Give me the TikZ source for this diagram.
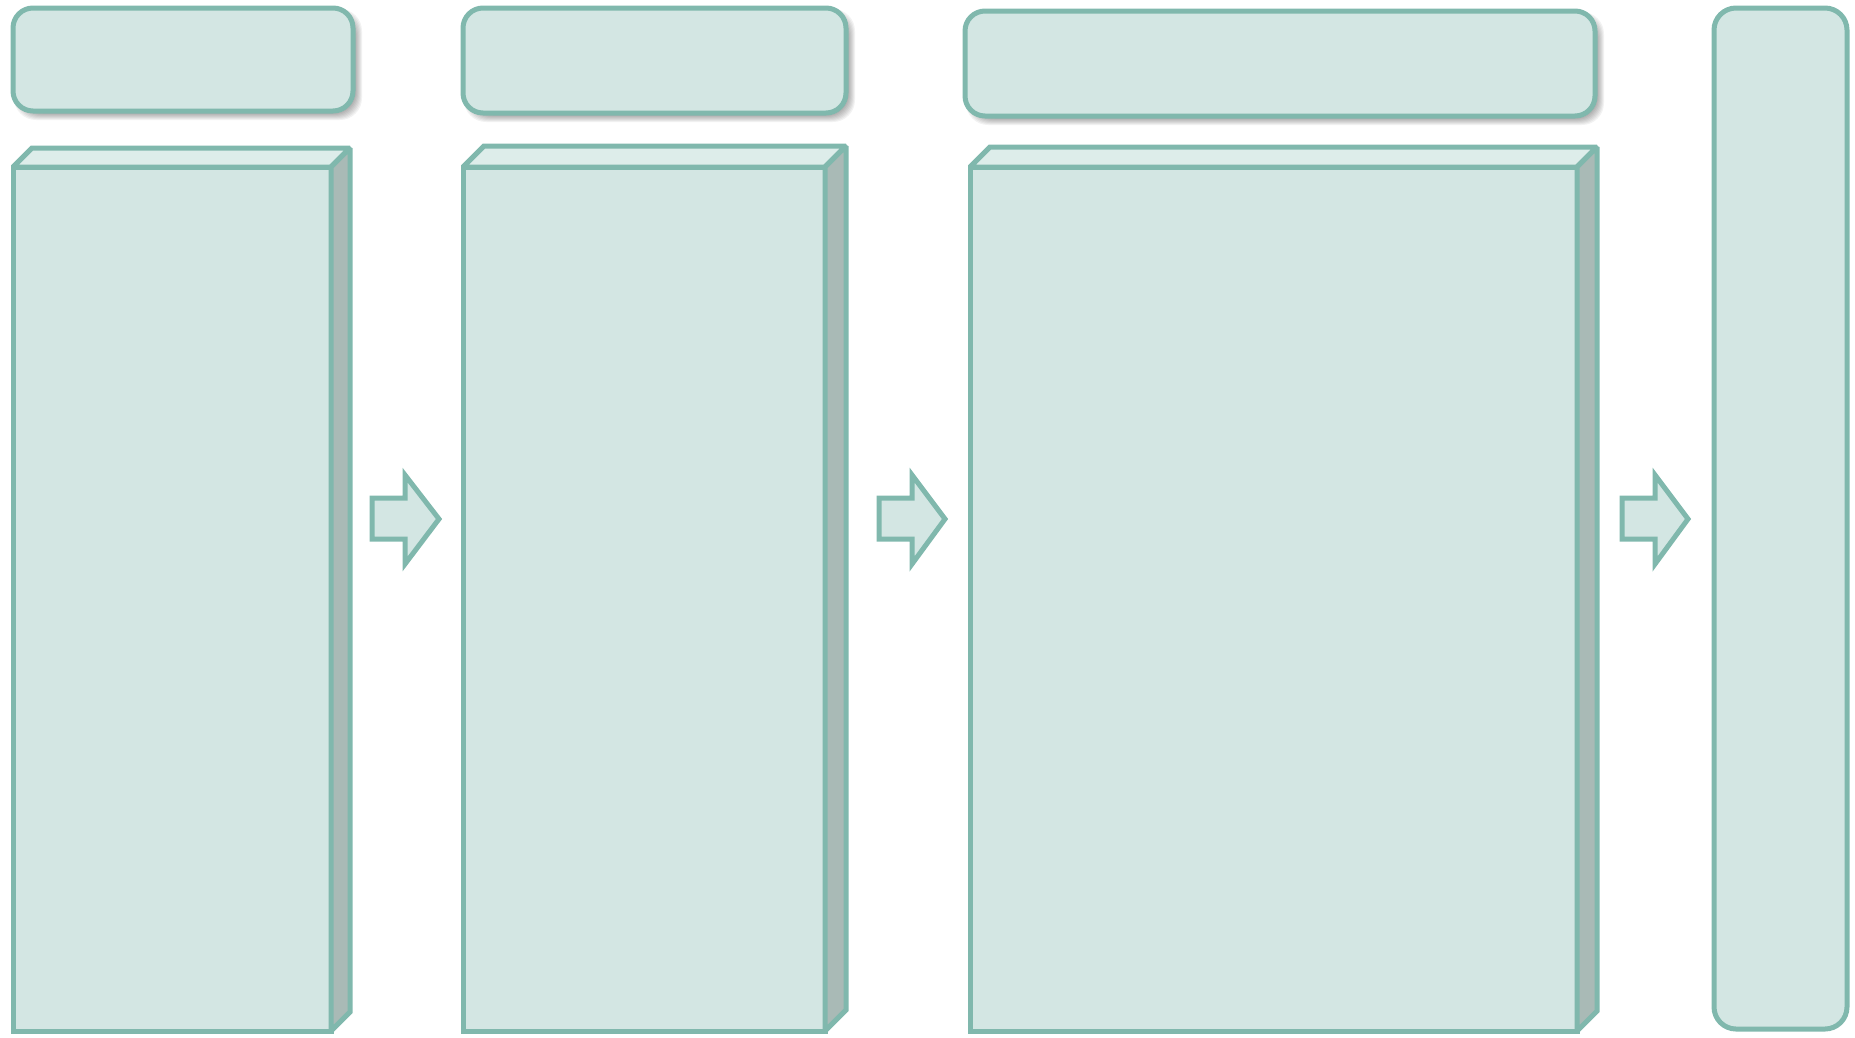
\documentclass[tikz,border=0pt]{standalone}
\usetikzlibrary{calc}
\definecolor{edgec}{HTML}{80B8AD}
\definecolor{fillc}{HTML}{D3E6E3}
\definecolor{topc}{HTML}{DDEDEA}
\definecolor{sidec}{HTML}{A9BAB6}
\tikzset{
  face/.style={draw=edgec, fill=fillc, line width=5pt, rectangle, inner sep=0pt, outer sep=0pt},
  topface/.style={draw=edgec, fill=topc, line width=5pt, line join=miter, miter limit=2},
  sideface/.style={draw=edgec, fill=sidec, line width=5pt, line join=miter, miter limit=2},
  rbox/.style={draw=edgec, fill=fillc, line width=5pt, rectangle, rounded corners=20pt, inner sep=0pt, outer sep=0pt},
  blockarrow/.style={draw=edgec, fill=fillc, line width=5pt, line join=miter, miter limit=4},
  shadowlayer/.style={fill=black, rounded corners=22pt}
}
\newcommand{\cubebox}[2]{% name, depth
  \draw[topface] (#1.north west) -- ++(#2,-#2) -- ($(#1.north east)+(#2,-#2)$) -- (#1.north east) -- cycle;
  \draw[sideface] (#1.north east) -- ++(#2,-#2) -- ($(#1.south east)+(#2,-#2)$) -- (#1.south east) -- cycle;
}
\newcommand{\shadowbox}[4]{% x1 y1 x2 y2
  \foreach \k in {-4,-3,-2,-1,0,1,2,3,4}{
    \fill[shadowlayer, opacity=0.05] (#1+5-\k,#2+5-\k) rectangle (#3+5+\k,#4+5+\k);
  }
}
\begin{document}
\begin{tikzpicture}[x=1pt,y=-1pt]
\useasboundingbox (0,0) rectangle (1855,1037);

% shadows of top boxes
\shadowbox{13}{8}{353}{111}
\shadowbox{463}{8}{846}{113}
\shadowbox{965}{11}{1595}{116}

% top rounded boxes
\node[rbox, minimum width=340pt, minimum height=103pt] (t1) at (183,59.5) {};
\node[rbox, minimum width=383pt, minimum height=105pt] (t2) at (654.5,60.5) {};
\node[rbox, minimum width=630pt, minimum height=105pt] (t3) at (1280,63.5) {};

% cubes
\node[face, minimum width=318pt, minimum height=864pt] (c1) at (172,599) {};
\cubebox{c1}{19}
\node[face, minimum width=362pt, minimum height=864pt] (c2) at (644,599) {};
\cubebox{c2}{21}
\node[face, minimum width=607pt, minimum height=864pt] (c3) at (1273.5,599) {};
\cubebox{c3}{20}

% tall right box
\node[rbox, rounded corners=22pt, minimum width=133pt, minimum height=1021pt] (r1) at (1780.5,518.5) {};

% block arrows
\draw[blockarrow] (372,498) -- (405,498) -- (405,475) -- (439,519) -- (405,564) -- (405,539) -- (372,539) -- cycle;
\draw[blockarrow] (879,498) -- (912,498) -- (912,475) -- (945,519) -- (912,564) -- (912,539) -- (879,539) -- cycle;
\draw[blockarrow] (1622,498) -- (1655,498) -- (1655,475) -- (1688,519) -- (1655,564) -- (1655,539) -- (1622,539) -- cycle;
\end{tikzpicture}
\end{document}
